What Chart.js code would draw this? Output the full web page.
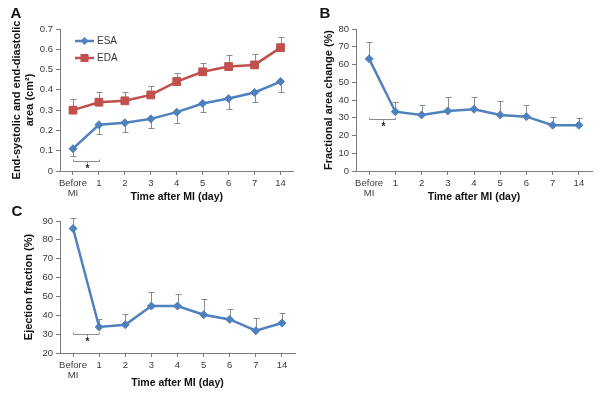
<!DOCTYPE html>
<html>
<head>
<meta charset="utf-8">
<script src="https://cdn.jsdelivr.net/npm/chart.js@4/dist/chart.umd.min.js"></script>
<style>
  body { margin: 0; background: #fff; }
  #wrap { position: relative; width: 601px; height: 400px; overflow: hidden; }
  canvas { position: absolute; }
</style>
</head>
<body>
<div id="wrap">
  <canvas id="chartA" width="300" height="204" style="left:0;top:0"></canvas>
  <canvas id="chartB" width="301" height="204" style="left:300px;top:0"></canvas>
  <canvas id="chartC" width="300" height="200" style="left:0;top:200px"></canvas>
</div>
<script>
// Dni po zawale (kategorie osi X)
const days = [['Before', 'MI'], '1', '2', '3', '4', '5', '6', '7', '14'];

// Panel A - pole skurczowe i rozkurczowe (cm2)
const esaArea = [0.110, 0.228, 0.238, 0.257, 0.290, 0.333, 0.357, 0.387, 0.441];
const esaSd = [0.038, 0.044, 0.045, 0.046, 0.051, 0.044, 0.052, 0.046, 0.051];
const edaArea = [0.300, 0.339, 0.346, 0.375, 0.441, 0.489, 0.515, 0.523, 0.608];
const edaSd = [0.054, 0.051, 0.044, 0.045, 0.044, 0.045, 0.059, 0.054, 0.054];

// Panel B - fractional area change (%)
const facValues = [63.2, 33.4, 31.6, 33.8, 34.8, 31.6, 30.6, 25.8, 25.8];
const facSd = [9.6, 5.5, 5.4, 7.7, 7.1, 8.0, 6.8, 4.6, 4.2];

// Panel C - ejection fraction (%)
const efValues = [86.0, 33.8, 35.0, 44.9, 44.9, 40.3, 37.8, 31.8, 35.9];
const efSd = [5.6, 4.4, 5.6, 7.2, 6.5, 8.3, 5.6, 6.9, 5.3];

const FONT = "'Liberation Sans', Arial, sans-serif";
const BLUE = '#4F81BD';
const RED = '#C0504D';
const AXIS = '#7a7a7a';
const TXT = '#3a3a3a';

// Wasy błędów, nawias istotności, litera panelu i legenda
const extras = {
    id: 'extras',
    beforeDatasetsDraw(chart, args, opts) {
        const ctx = chart.ctx;
        const ys = chart.scales.y, xs = chart.scales.x;
        ctx.save();
        ctx.strokeStyle = '#8c8c8c';
        ctx.lineWidth = 1;
        (opts.errors || []).forEach(e => {
            const vals = chart.data.datasets[e.dataset].data;
            vals.forEach((v, i) => {
                const x = Math.round(xs.getPixelForValue(i)) + 0.5;
                const y0 = ys.getPixelForValue(v);
                const y1 = Math.round(ys.getPixelForValue(v + e.dir * e.sd[i])) + 0.5;
                ctx.beginPath();
                ctx.moveTo(x, y0);
                ctx.lineTo(x, y1);
                ctx.moveTo(x - 3, y1);
                ctx.lineTo(x + 3, y1);
                ctx.stroke();
            });
        });
        const b = opts.bracket;
        if (b) {
            const x0 = Math.round(xs.getPixelForValue(0)) + 0.5;
            const x1 = Math.round(xs.getPixelForValue(1)) + 0.5;
            const xm = Math.round((x0 + x1) / 2) + 0.5;
            const y = Math.round(ys.getPixelForValue(b.value)) + 0.5;
            ctx.beginPath();
            ctx.moveTo(x0, y - 2); ctx.lineTo(x0, y); ctx.lineTo(x1, y); ctx.lineTo(x1, y - 2);
            ctx.moveTo(xm, y); ctx.lineTo(xm, y + 2);
            ctx.stroke();
            ctx.fillStyle = '#222';
            ctx.font = 'bold 10px ' + FONT;
            ctx.textAlign = 'center';
            ctx.textBaseline = 'middle';
            ctx.fillText('*', xm, y + 8);
        }
        ctx.restore();
    },
    afterDraw(chart, args, opts) {
        const ctx = chart.ctx;
        const area = chart.chartArea;
        ctx.save();
        if (opts.letter) {
            ctx.fillStyle = '#111';
            ctx.font = 'bold 15px ' + FONT;
            ctx.textAlign = 'center';
            ctx.textBaseline = 'middle';
            ctx.fillText(opts.letter.text, opts.letter.x, opts.letter.y);
        }
        (opts.legend || []).forEach((item, k) => {
            const ds = chart.data.datasets[item.dataset];
            const y = area.top + 12 + k * 17;
            const x0 = area.left + 15, x1 = area.left + 34, xm = (x0 + x1) / 2;
            ctx.strokeStyle = ds.borderColor;
            ctx.lineWidth = 2.5;
            ctx.beginPath(); ctx.moveTo(x0, y); ctx.lineTo(x1, y); ctx.stroke();
            ctx.fillStyle = ds.borderColor;
            ctx.beginPath();
            if (ds.pointStyle === 'rect') {
                ctx.rect(xm - 4, y - 4, 8, 8);
            } else {
                ctx.moveTo(xm, y - 4); ctx.lineTo(xm + 4, y); ctx.lineTo(xm, y + 4); ctx.lineTo(xm - 4, y);
                ctx.closePath();
            }
            ctx.fill();
            ctx.fillStyle = TXT;
            ctx.font = '10px ' + FONT;
            ctx.textAlign = 'left';
            ctx.textBaseline = 'middle';
            ctx.fillText(ds.label, x1 + 3, y + 0.5);
        });
        ctx.restore();
    }
};

function series(label, data, color, style, radius) {
    return {
        label: label,
        data: data,
        borderColor: color,
        backgroundColor: color,
        borderWidth: 2.5,
        pointStyle: style,
        pointRadius: radius,
        pointHoverRadius: radius,
        pointBorderWidth: 1,
        tension: 0
    };
}

function makeChart(id, datasets, cfg) {
    return new Chart(document.getElementById(id).getContext('2d'), {
        type: 'line',
        data: { labels: days, datasets: datasets },
        options: {
            responsive: false,
            animation: false,
            devicePixelRatio: 1,
            layout: { padding: cfg.padding },
            plugins: {
                legend: { display: false },
                tooltip: { enabled: false },
                extras: cfg.extras
            },
            scales: {
                x: {
                    offset: true,
                    grid: { drawOnChartArea: false, tickLength: 4, color: AXIS },
                    border: { color: AXIS },
                    ticks: { color: TXT, padding: 3, maxRotation: 0, autoSkip: false,
                             font: { family: FONT, size: 9.5, lineHeight: 1.05 } },
                    title: { display: true, text: 'Time after MI (day)', color: '#111',
                             padding: { top: 0, bottom: cfg.xTitlePad },
                             font: { family: FONT, size: 10.5, weight: 'bold', lineHeight: 1.2 } },
                    afterFit: s => { s.height = cfg.xHeight; }
                },
                y: {
                    min: cfg.yMin,
                    max: cfg.yMax,
                    ticks: { stepSize: cfg.yStep, color: TXT, padding: 3,
                             font: { family: FONT, size: 9.5 } },
                    grid: { drawOnChartArea: false, tickLength: 4, color: AXIS },
                    border: { color: AXIS },
                    title: { display: true, text: cfg.yTitle, color: '#111',
                             padding: { top: cfg.yTitlePad, bottom: 0 },
                             font: { family: FONT, size: 11, weight: 'bold', lineHeight: 1.2 } },
                    afterFit: s => { s.width = cfg.yWidth; }
                }
            }
        },
        plugins: [extras]
    });
}

// Panel A
makeChart('chartA', [
    series('ESA', esaArea, BLUE, 'rectRot', 4),
    series('EDA', edaArea, RED, 'rect', 5.5)
], {
    padding: { top: 29, right: 2, bottom: 0, left: 0 },
    xHeight: 33, xTitlePad: 1, yWidth: 60, yTitlePad: 10.4,
    yMin: 0, yMax: 0.7, yStep: 0.1,
    yTitle: ['End-systolic and end-diastolic', 'area (cm²)'],
    extras: {
        errors: [{ dataset: 0, sd: esaSd, dir: -1 }, { dataset: 1, sd: edaSd, dir: 1 }],
        bracket: { value: 0.05 },
        letter: { text: 'A', x: 16, y: 14 },
        legend: [{ dataset: 0 }, { dataset: 1 }]
    }
});

// Panel B
makeChart('chartB', [
    series('FAC', facValues, BLUE, 'rectRot', 4)
], {
    padding: { top: 29, right: 9, bottom: 0, left: 0 },
    xHeight: 33, xTitlePad: 1, yWidth: 56, yTitlePad: 22,
    yMin: 0, yMax: 80, yStep: 10,
    yTitle: 'Fractional area change (%)',
    extras: {
        errors: [{ dataset: 0, sd: facSd, dir: 1 }],
        bracket: { value: 29.5 },
        letter: { text: 'B', x: 25, y: 14 }
    }
});

// Panel C
makeChart('chartC', [
    series('EF', efValues, BLUE, 'rectRot', 4)
], {
    padding: { top: 21, right: 1, bottom: 11, left: 0 },
    xHeight: 36, xTitlePad: 0, yWidth: 60, yTitlePad: 22.4,
    yMin: 20, yMax: 90, yStep: 10,
    yTitle: 'Ejection fraction (%)',
    extras: {
        errors: [{ dataset: 0, sd: efSd, dir: 1 }],
        bracket: { value: 30 },
        letter: { text: 'C', x: 17, y: 12 }
    }
});
</script>
</body>
</html>
